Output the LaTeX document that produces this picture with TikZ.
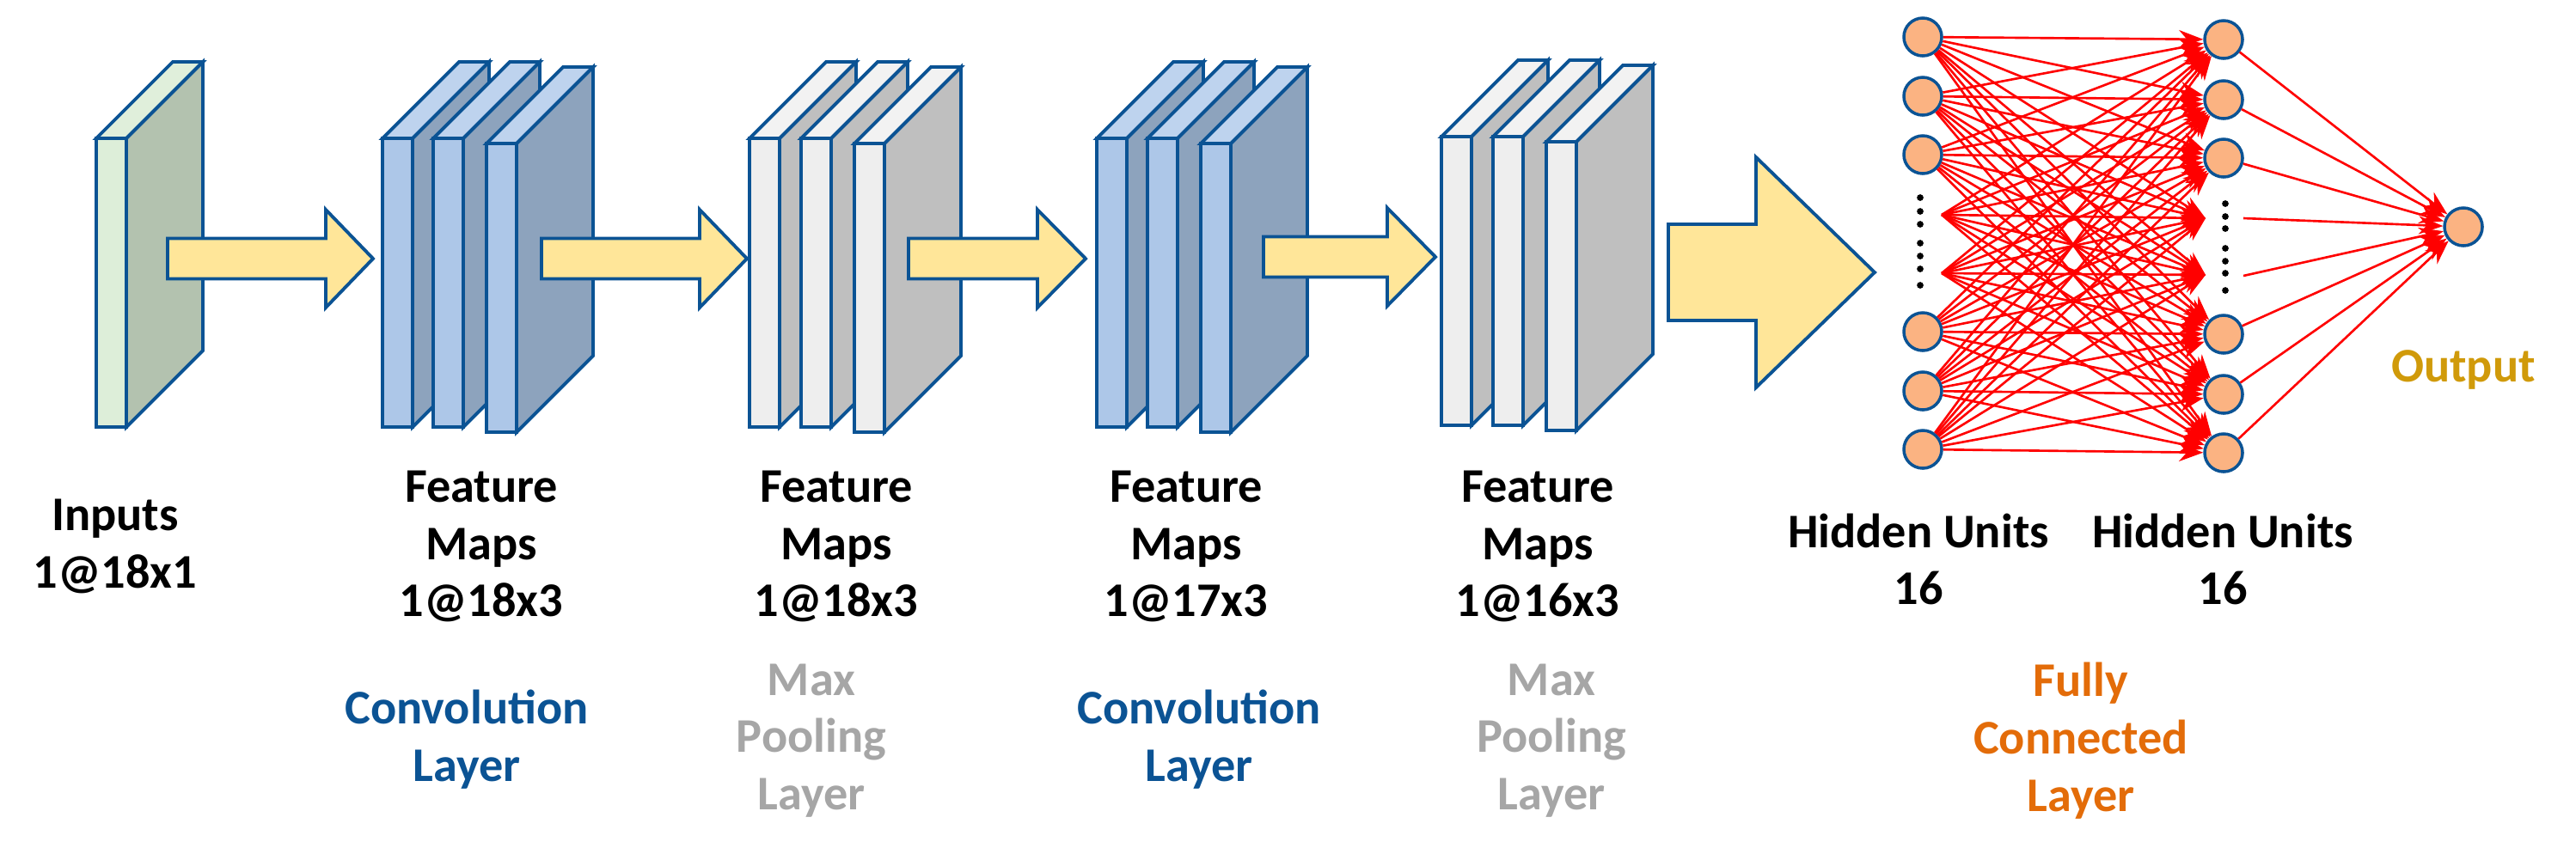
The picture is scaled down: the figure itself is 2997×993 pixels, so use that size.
\documentclass[tikz,border=0pt]{standalone}
\usepackage{fontspec}
\setmainfont{Carlito}
\usetikzlibrary{arrows.meta}
\definecolor{edge}{HTML}{0B5394}
\definecolor{inF}{HTML}{DDEED9}\definecolor{inS}{HTML}{B3C2AF}\definecolor{inT}{HTML}{E0EFDB}
\definecolor{cvF}{HTML}{ADC7E8}\definecolor{cvS}{HTML}{8DA3BD}\definecolor{cvT}{HTML}{BED3EE}
\definecolor{plF}{HTML}{EEEEEE}\definecolor{plS}{HTML}{BFBFBF}\definecolor{plT}{HTML}{F2F2F2}
\definecolor{arrF}{HTML}{FFE699}
\definecolor{convT}{HTML}{0B5394}\definecolor{poolT}{HTML}{A6A6A6}
\definecolor{fcT}{HTML}{E36C09}\definecolor{outT}{HTML}{D09A0A}
\definecolor{neu}{HTML}{FBB382}
\newcommand\myslab[5]{%
  \filldraw[slabline,fill=#5] (#1,-#2) -- ++(89,89) -- ++(35,0) -- ++(-89,-89) -- cycle;
  \filldraw[slabline,fill=#4] (#1+35,-#2) -- ++(89,89) -- ++(0,-336) -- ++(-89,-89) -- cycle;
  \filldraw[slabline,fill=#3] (#1,-#2) rectangle ++(35,-336);}
\newcommand\myarrow[6]{% x0, head base, tip, yc, body half, head half
  \filldraw[slabline,fill=arrF] (#1,-#4+#5) -- (#2,-#4+#5) -- (#2,-#4+#6) -- (#3,-#4)
   -- (#2,-#4-#6) -- (#2,-#4-#5) -- (#1,-#4-#5) -- cycle;}
\begin{document}
\begin{tikzpicture}[x=0.01cm,y=0.01cm,
  slabline/.style={draw=edge,line width=1.1pt,line join=miter},
  lab/.style={font=\fontsize{16}{19}\selectfont\bfseries,align=center},
  neuron/.style={circle,draw=edge,line width=1pt,fill=neu,minimum size=0.44cm,inner sep=0pt},
  conn/.style={red,line width=0.75pt,-{Stealth[length=8pt,width=6pt]}},
  dot/.style={circle,fill=black,inner sep=0pt,minimum size=2.2pt}]
\useasboundingbox (0,0) rectangle (2997,-993);
% input
\myslab{112}{161}{inF}{inS}{inT}
% conv1
\myslab{445}{161}{cvF}{cvS}{cvT}\myslab{504}{161}{cvF}{cvS}{cvT}\myslab{566}{167}{cvF}{cvS}{cvT}
\myarrow{195}{379}{434}{301}{23.5}{57}
% pool1
\myslab{872}{161}{plF}{plS}{plT}\myslab{932}{161}{plF}{plS}{plT}\myslab{994}{167}{plF}{plS}{plT}
\myarrow{630}{814}{869}{301}{23.5}{57}
% conv2
\myslab{1276}{161}{cvF}{cvS}{cvT}\myslab{1335}{161}{cvF}{cvS}{cvT}\myslab{1397}{167}{cvF}{cvS}{cvT}
\myarrow{1057}{1207}{1263}{301}{23.5}{57}
% pool2
\myslab{1677}{159}{plF}{plS}{plT}\myslab{1737}{159}{plF}{plS}{plT}\myslab{1799}{165}{plF}{plS}{plT}
\myarrow{1470}{1614}{1670}{299}{23.5}{57}
\myarrow{1941}{2043}{2181}{317}{56}{134}
% network
\foreach \n/\y in {1/43,2/112,3/180,6/386,7/455,8/523}{\node[neuron] (L\n) at (2237,-\y) {};}
\coordinate (L4) at (2259,-250); \coordinate (L5) at (2259,-318);
\foreach \n/\y in {1/46,2/116,3/184,6/389,7/459,8/527}{\node[neuron] (R\n) at (2587,-\y) {};}
\coordinate (R4) at (2566,-254); \coordinate (R5) at (2566,-320);
\coordinate (Q4) at (2610,-254); \coordinate (Q5) at (2610,-321);
\node[neuron] (O) at (2866,-264) {};
\foreach \i in {1,...,8}{\foreach \j in {1,...,8}{\draw[conn] (L\i) -- (R\j);}}
\foreach \j in {1,2,3,6,7,8}{\draw[conn] (R\j) -- (O);}
\draw[conn] (Q4) -- (O); \draw[conn] (Q5) -- (O);
\foreach \y [count=\k] in {230,246,261,283,298,313,332}{\node[dot] (dl\k) at (2234,-\y) {};}
\foreach \y [count=\k] in {237,252,266,289,304,318,338}{\node[dot] (dr\k) at (2589,-\y) {};}
% labels
\node[lab] (t0) at (134,-636) {Inputs\\1@18x1};
\node[lab] (t1) at (560,-636) {Feature\\Maps\\1@18x3};
\node[lab] (t2) at (973,-636) {Feature\\Maps\\1@18x3};
\node[lab] (t3) at (1380,-636) {Feature\\Maps\\1@17x3};
\node[lab] (t4) at (1789,-636) {Feature\\Maps\\1@16x3};
\node[lab,text=convT] (c1) at (543,-861) {Convolution\\Layer};
\node[lab,text=convT] (c2) at (1395,-861) {Convolution\\Layer};
\node[lab,text=poolT] (p1) at (944,-862) {Max\\Pooling\\Layer};
\node[lab,text=poolT] (p2) at (1805,-862) {Max\\Pooling\\Layer};
\node[lab] (h1) at (2232,-651) {Hidden Units\\16};
\node[lab] (h2) at (2586,-651) {Hidden Units\\16};
\node[lab,text=fcT] (fc) at (2421,-862) {Fully\\Connected\\Layer};
\node[lab,text=outT] (ot) at (2866,-430) {Output};
\end{tikzpicture}
\end{document}
